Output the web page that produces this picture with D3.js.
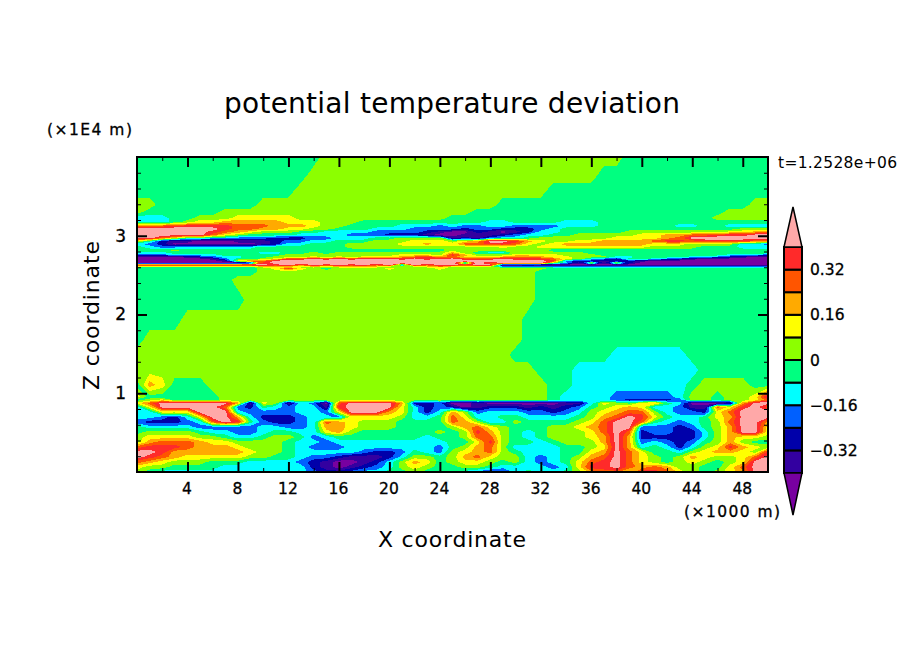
<!DOCTYPE html>
<html>
<head>
<meta charset="utf-8">
<script src="https://cdnjs.cloudflare.com/ajax/libs/d3/7.8.5/d3.min.js"></script>
<style>
html, body { margin: 0; padding: 0; background: #fff; }
svg { display: block; }
text { font-family: "DejaVu Sans", sans-serif; fill: #000; }
</style>
</head>
<body>
<script>
// heights of the grid rows, x1E4 m
var zLevels = [0,.063,.127,.19,.254,.317,.381,.444,.508,.571,.635,.698,.762,.825,.876,.914,.952,1.105,1.295,1.486,1.676,1.93,2.184,2.438,2.54,2.59,2.603,2.629,2.654,2.679,2.705,2.73,2.756,2.781,2.819,2.857,2.895,2.933,2.971,3.01,3.048,3.086,3.124,3.175,3.225,3.302,3.39,3.581,3.771,4];
// x of the grid columns, x1000 m
var xLevels = d3.range(0, 51);
var xTicks = [4,8,12,16,20,24,28,32,36,40,44,48];
var zTicks = [1,2,3];
// contour levels and fills, hundredths of K
var levels = [-40,-32,-24,-16,-8,0,8,16,24,32,40];
var fills = ["#7800a0","#3300a0","#0000aa","#0060ff","#00ffff","#00ff80","#8cff00","#ffff00","#ffaa00","#ff5500","#ff2a2a","#ffa8a8"];
var barLabels = [-32,-16,0,16,32];

// deviation, one list per height, hundredths of K
var r00 = [4,-4,-12,-12,-12,-12,-12,-12,-12,-12,-12,-12,-12,-12,-20,-28,-28,-20,-12,-12,-4,-4,4,-4,-4,
 -4,-12,-20,-28,-28,-12,-4,-12,-12,-4,4,20,28,28,12,36,36,28,12,4,-4,4,12,20,44,44];
var r01 = [12,4,4,-4,-4,-4,-4,-12,-12,-12,-12,-12,-12,-12,-28,-36,-44,-36,-28,-20,-12,4,12,4,-4,
 -4,4,4,-4,-12,-12,-12,-12,-20,-12,12,36,36,44,28,20,28,20,4,4,-4,-4,12,28,44,44];
var r02 = [28,20,12,4,4,4,-4,-4,-4,-12,-12,-12,-12,-20,-28,-36,-44,-44,-36,-28,-12,4,20,12,-4,
 4,12,12,4,-4,4,-12,-20,-12,-4,12,28,36,44,28,12,4,-4,4,12,4,-4,4,12,44,44];
var r03 = [44,36,28,20,12,12,12,12,12,4,4,-4,-4,-12,-20,-20,-28,-36,-36,-36,-28,-12,4,4,-4,
 4,20,28,12,4,4,-12,-20,-12,-4,4,20,28,44,28,12,4,-4,4,20,12,4,4,12,28,44];
var r04 = [44,44,36,20,20,20,20,20,20,12,4,4,-4,-12,-12,-12,-12,-12,-20,-28,-28,-20,-4,-12,-20,
 4,12,20,28,4,-4,-12,-12,-12,-4,-4,12,20,44,28,12,-4,-4,-12,4,12,20,20,12,4,36];
var r05 = [28,36,36,36,28,20,20,20,12,4,4,4,-4,-12,-20,-20,-20,-12,-12,-12,-12,-12,-12,-12,-20,
 -4,4,20,28,4,-12,-12,-12,-12,-4,-4,4,12,44,20,-12,-4,-12,-28,-12,4,12,36,20,12,4];
var r06 = [4,20,28,28,28,20,12,12,4,4,4,4,-4,-12,-12,-20,-12,-12,-12,-12,-12,-12,-12,-12,-12,
 -4,-4,12,36,4,-4,-4,-12,-4,4,4,4,20,44,20,-20,-12,-20,-28,-20,-4,4,20,4,-4,-4];
var r07 = [4,12,12,12,12,4,4,-4,-12,-12,-4,4,4,-4,-20,-12,-4,-4,-4,-4,-4,-4,-4,-12,-4,
 -4,4,28,28,4,-4,-12,-4,4,4,4,12,20,44,20,-28,-28,-28,-28,-28,-12,4,20,12,12,4];
var r08 = [-4,4,4,4,4,-4,-12,-12,-20,-20,-12,-4,-4,-12,-12,12,20,4,-4,-4,-4,-4,-4,-4,4,
 -4,4,36,20,4,-4,-12,-4,4,4,4,12,28,44,28,-28,-20,-20,-28,-28,-12,4,20,44,44,12];
var r09 = [-4,-12,-12,-12,-12,-20,-20,-20,-20,-20,-12,-12,-20,-20,-12,20,20,12,4,4,4,-4,-4,-4,-4,
 4,20,28,12,4,-4,-4,-4,4,4,12,20,28,44,44,-20,-20,-20,-28,-20,-4,4,20,44,44,12];
var r10 = [-20,-28,-28,-28,-20,-12,28,44,36,-4,-20,-28,-28,-20,-12,28,20,12,4,4,4,-4,-4,-4,-4,
 28,20,4,-12,-12,4,-4,-4,-4,-4,4,12,28,44,44,28,-4,-12,-20,-12,-4,4,28,44,44,20];
var r11 = [-12,-12,-20,-28,-12,12,44,44,20,-12,-28,-28,-28,-20,-12,-12,-20,12,12,12,12,4,-12,-12,-4,
 28,12,-12,-12,-4,-4,-12,-12,-12,-12,-4,4,20,28,44,36,12,-4,-12,-12,-4,12,20,44,44,44];
var r12 = [-12,-12,12,12,12,44,44,44,-12,-20,-20,-20,-20,-12,-12,-20,12,44,44,44,20,12,-12,-28,-12,
 20,4,-20,-12,-12,-12,-20,-20,-28,-20,-12,4,12,20,28,28,4,-12,-20,-20,-28,12,28,44,44,44];
var r13 = [-12,12,44,44,44,44,44,28,-20,-28,-4,-12,-20,-12,-12,-36,36,44,44,44,44,12,-12,-28,-20,
 -28,-44,-36,-28,-28,-28,-36,-28,-36,-28,-20,-4,4,12,20,12,-12,-12,-20,-36,-36,28,12,36,44,28];
var r14 = [12,28,44,44,44,44,44,44,20,-36,12,4,-36,-12,-20,-44,28,44,44,44,44,20,-28,-28,-20,
 -44,-44,-36,-44,-44,-44,-44,-44,-44,-36,-36,-12,12,4,-4,12,20,-4,-12,-44,-44,-44,-36,20,44,44];
var r15 = [-4,4,12,-4,-4,-4,-4,4,4,4,4,4,4,4,4,4,4,4,4,4,4,4,4,4,4,
 4,4,4,4,4,4,4,4,-4,-12,-12,-12,-12,-20,-28,-28,-28,-28,-20,4,4,-4,4,4,12,28];
var r16 = [12,-4,-4,-4,-4,-4,-4,4,4,4,4,4,4,4,4,4,4,4,4,4,4,4,4,4,4,
 4,4,4,4,4,4,4,4,-4,-12,-12,-12,-12,-20,-20,-20,-20,-20,-12,4,4,-4,4,4,12,44];
var r17 = [-4,20,12,-4,-4,-4,4,4,4,4,4,4,4,4,4,4,4,4,4,4,4,4,4,4,4,
 4,4,4,4,4,4,4,4,-4,-4,-12,-12,-12,-12,-12,-12,-12,-12,-12,-4,4,4,4,4,-4,-4];
var r18 = [4,4,4,4,4,4,4,4,4,4,4,4,4,4,4,4,4,4,4,4,4,4,4,4,4,
 4,4,4,4,4,4,4,-4,-4,-4,-12,-12,-12,-12,-12,-12,-12,-12,-12,-12,-4,-4,-4,-4,-4,-4];
var r19 = [4,4,4,4,4,4,4,4,4,4,4,4,4,4,4,4,4,4,4,4,4,4,4,4,4,
 4,4,4,4,4,-4,-4,-4,-4,-4,-4,-4,-4,-12,-12,-12,-12,-12,-12,-4,-4,-4,-4,-4,-4,-4];
var r20 = [-4,4,4,4,4,4,4,4,4,4,4,4,4,4,4,4,4,4,4,4,4,4,4,4,4,
 4,4,4,4,4,4,-4,-4,-4,-4,-4,-4,-4,-4,-4,-4,-4,-4,-4,-4,-4,-4,-4,-4,-4,-4];
var r21 = [-4,-4,-4,-4,4,4,4,4,4,4,4,4,4,4,4,4,4,4,4,4,4,4,4,4,4,
 4,4,4,4,4,4,-4,-4,-4,-4,-4,-4,-4,-4,-4,-4,-4,-4,-4,-4,-4,-4,-4,-4,-4,-4];
var r22 = [-4,-4,-4,-4,-4,-4,-4,-4,-4,4,4,4,4,4,4,4,4,4,4,4,4,4,4,4,4,
 4,4,4,4,4,4,4,-4,-4,-4,-4,-4,-4,-4,-4,-4,-4,-4,-4,-4,-4,-4,-4,-4,-4,-4];
var r23 = [-4,-4,-4,-4,-4,-4,-4,-4,4,4,4,4,4,4,4,4,4,4,4,4,4,4,4,4,4,
 4,4,4,4,4,4,4,-4,-4,-4,-4,-4,-4,-4,-4,-4,-4,-4,-4,-4,-4,-4,-4,-4,-4,-4];
var r24 = [-4,-4,-4,-4,-4,-4,-4,-4,-4,-4,4,4,4,4,4,4,4,4,4,4,4,4,4,4,4,
 4,4,4,4,4,4,4,-4,-4,-4,-4,-4,-4,-4,-4,-4,-4,-4,-4,-4,-4,-4,-4,-4,-4,-4];
var r25 = [-4,-4,-4,-4,-4,-4,-4,-4,-4,-4,4,12,36,12,4,-4,4,4,4,4,12,4,4,4,12,
 4,4,4,4,4,4,4,4,-4,-4,-4,-4,-4,-4,-4,-4,-4,-4,-4,-4,-4,-4,-4,-4,-4,-4];
var r26 = [-4,-4,-4,-4,-4,-4,-4,-4,-4,-4,12,20,12,4,12,4,12,20,12,12,4,12,4,12,20,
 4,4,4,4,-12,-12,-12,-12,-12,-12,-12,-12,-12,-12,-12,-12,-12,-12,-12,-12,-12,-12,-12,-12,-12,-12];
var r27 = [44,44,44,44,44,44,44,44,44,44,44,36,44,28,44,36,44,36,44,28,44,-20,44,28,44,
 44,36,44,44,-44,-44,-36,-44,-44,-44,-44,-44,-44,-44,-44,-44,-44,-44,-44,-44,-44,-44,-44,-44,-44,-44];
var r28 = [-44,-44,-44,-44,-44,-44,-44,-44,-44,-36,36,44,44,44,44,44,44,44,44,44,44,44,44,44,44,
 44,-20,44,28,44,44,44,44,4,-12,-36,12,-36,12,-28,-44,-44,-44,-44,-44,-44,-44,-44,-44,-44,-44];
var r29 = [-44,-44,-44,-44,-44,-44,-44,-36,12,28,28,44,44,44,44,44,44,44,44,44,44,44,44,44,44,
 44,44,44,44,44,44,44,44,36,-20,-28,-28,-36,-28,-28,-36,-44,-44,-44,-44,-44,-44,-44,-44,-44,-44];
var r30 = [-44,-44,-44,-44,-44,-44,-36,-20,-4,-4,4,12,36,36,44,36,44,36,44,44,44,36,44,36,44,
 44,36,36,36,44,36,36,36,28,12,4,-12,-20,-28,-4,-4,-12,-20,-28,-36,-44,-44,-44,-44,-44,-44];
var r31 = [-44,-44,-44,-44,-36,-28,-20,-12,-12,-4,-4,4,4,4,12,4,12,4,12,12,12,20,28,36,20,
 28,12,12,12,20,28,28,20,12,12,4,4,4,-12,-12,-4,-4,-4,-4,-12,-12,-20,-28,-36,-44,-44];
var r32 = [-20,-20,-20,-12,-12,-12,-12,-4,-4,-4,-4,-4,4,4,4,4,4,4,4,4,4,12,12,12,4,
 36,20,4,4,4,12,12,12,12,4,4,4,-4,-4,-4,-4,-4,-4,-4,-4,-4,-4,-12,-12,-12,-28];
var r33 = [-12,-12,-12,-4,-4,-4,-4,-4,-4,-4,-12,-12,-4,-4,4,-4,4,4,4,4,4,4,4,4,4,
 20,4,-4,-12,-12,4,4,4,4,4,4,-4,-4,-4,-4,-4,-4,-4,-4,-4,-4,-4,-4,-4,-4,-4];
var r34 = [-4,-4,-4,4,-4,-4,-4,-4,-4,-4,-4,-4,-4,-4,-4,-4,-4,-4,-4,-4,-4,-4,-4,-4,-4,
 4,4,4,4,4,4,4,4,-4,-4,-4,-4,-4,-4,-4,-4,-4,-4,-4,-4,-4,-4,-4,-4,-4,-4];
var r35 = [-4,-12,-20,-20,-12,-12,-12,-12,-12,-12,-4,-4,-4,-4,-4,-4,-4,4,4,4,4,4,4,4,4,
 4,4,4,4,12,4,4,12,12,12,12,12,12,12,12,12,4,4,4,4,-4,-4,-4,-12,-12,-12];
var r36 = [-12,-20,-28,-44,-44,-44,-44,-44,-44,-44,-36,-28,-12,-12,-4,-4,-4,4,4,4,4,12,12,20,12,
 12,28,28,36,36,28,12,4,12,20,20,20,20,20,20,20,12,12,12,4,4,4,4,-12,-12,-20];
var r37 = [12,-4,-28,-36,-36,-44,-44,-44,-36,-36,-36,-28,-20,-20,-12,-12,-4,-4,-4,4,4,4,12,12,12,
 4,12,20,44,44,36,20,12,4,4,12,12,20,20,20,20,28,36,36,28,36,36,36,36,28,28];
var r38 = [44,44,28,12,-4,-4,-12,-12,-20,-20,-20,-28,-28,-28,-20,-20,-12,-12,-12,-4,-4,4,4,4,4,
 -36,-28,-36,-20,-12,-12,-4,4,4,4,4,4,4,12,12,12,12,20,28,44,44,44,44,44,44,44];
var r39 = [44,44,44,44,44,44,28,12,4,-4,-4,-4,-4,-12,-12,-12,-12,-20,-20,-20,-28,-28,-28,-36,-44,
 -44,-36,-36,-36,-28,-20,-12,-12,-4,-4,4,4,4,4,4,12,12,20,20,28,28,36,36,36,44,44];
var r40 = [44,44,44,44,44,44,36,28,20,12,4,4,4,-4,-4,-12,-12,-12,-12,-20,-20,-20,-20,-28,-36,
 -44,-44,-28,-36,-44,-36,-28,-12,-12,-4,-4,-4,-4,-4,4,4,4,4,4,4,4,4,12,12,20,28];
var r41 = [44,44,44,44,44,44,44,36,28,28,20,20,12,12,4,4,-4,-4,-4,-12,-12,-12,-20,-20,-20,
 -20,-28,-20,-20,-28,-28,-28,-20,-12,-4,-4,-4,-4,-4,-4,-4,-4,-4,-4,-4,-4,-4,-4,4,4,4];
var r42 = [20,28,28,36,36,36,36,36,28,28,28,20,20,20,12,4,4,-4,-4,-4,-4,-12,-12,-12,-20,
 -12,-20,-20,-12,-12,-20,-20,-20,-20,-12,-12,-12,-4,-4,-4,-4,-4,-4,-12,-12,-4,-4,-12,-12,-12,-12];
var r43 = [-12,-12,-12,-4,4,12,12,20,20,20,20,20,12,12,12,4,4,4,-4,-4,-4,-4,-4,-4,-4,
 -4,-4,-4,-12,-12,-4,-4,-4,-4,-12,-12,-12,-4,-4,-4,-4,-4,-4,-4,-4,-4,-4,-4,-4,-4,-4];
var r44 = [-12,-12,-12,-4,-4,4,4,4,12,12,12,12,12,4,4,4,4,4,4,4,4,4,4,4,4,
 -4,-4,-4,-4,-4,-4,-4,-4,-4,-4,-4,-4,-4,-4,-4,-4,-4,-4,-4,-4,-4,4,4,4,4,4];
var r45 = [4,-4,-4,-4,-4,-4,-4,4,4,4,4,4,4,4,4,4,4,4,4,4,4,4,4,4,4,
 4,4,-4,-4,-4,-4,-4,-4,-4,-4,-4,-4,-4,-4,-4,-4,-4,-4,-4,-4,-4,-4,4,4,4,4];
var r46 = [4,4,-4,-4,-4,-4,-4,-4,-4,-4,4,4,4,4,4,4,4,4,4,4,4,4,4,4,4,
 4,4,4,4,-4,-4,-4,-4,-4,-4,-4,-4,-4,-4,-4,-4,-4,-4,-4,-4,-4,-4,-4,-4,4,4];
var r47 = [-4,-4,-4,-4,-4,-4,-4,-4,-4,-4,-4,-4,-4,4,4,4,4,4,4,4,4,4,4,4,4,
 4,4,4,4,4,4,4,4,-4,-4,-4,-4,-4,-4,-4,-4,-4,-4,-4,-4,-4,-4,-4,-4,-4,-4];
var r48 = [-4,-4,-4,-4,-4,-4,-4,-4,-4,-4,-4,-4,-4,-4,4,4,4,4,4,4,4,4,4,4,4,
 4,4,4,4,4,4,4,4,4,4,4,4,-4,-4,-4,-4,-4,-4,-4,-4,-4,-4,-4,-4,-4,-4];
var r49 = [-4,-4,-4,-4,-4,-4,-4,-4,-4,-4,-4,-4,-4,-4,-4,4,4,4,4,4,4,4,4,4,4,
 4,4,4,4,4,4,4,4,4,4,4,4,4,4,-4,-4,-4,-4,-4,-4,-4,-4,-4,-4,-4,-4];

var rows = [r00,r01,r02,r03,r04,r05,r06,r07,r08,r09,r10,r11,r12,r13,r14,r15,r16,r17,r18,r19,r20,r21,r22,r23,r24,
 r25,r26,r27,r28,r29,r30,r31,r32,r33,r34,r35,r36,r37,r38,r39,r40,r41,r42,r43,r44,r45,r46,r47,r48,r49];

var width = 904, height = 654;
var plotLeft = 137, plotRight = 768, plotTop = 157, plotBottom = 472;

var svg = d3.select("body")
.append("svg")
.attr("width", width)
.attr("height", height);

var x = d3.scaleLinear().domain([0, 50]).range([plotLeft, plotRight]);
var z = d3.scaleLinear().domain([0, 4]).range([plotBottom, plotTop]);

// grid index -> data coordinate, the rows are not evenly spaced
var colToX = d3.scaleLinear().domain(xLevels.map(function(d, i){ return i; })).range(xLevels).clamp(true);
var rowToZ = d3.scaleLinear().domain(zLevels.map(function(d, i){ return i; })).range(zLevels).clamp(true);

var nx = xLevels.length, nz = zLevels.length;
var values = [];
rows.forEach(function(r){
    for (var i = 0; i < nx; i++) values.push(r[i]);
});

var contours = d3.contours()
.size([nx, nz])
.thresholds(levels)
(values);

var toPixels = d3.geoTransform({
    point: function(px, py){
        this.stream.point(x(colToX(px - 0.5)), z(rowToZ(py - 0.5)));
    }
});
var path = d3.geoPath(toPixels);

svg.append("clipPath").attr("id", "plotClip")
.append("rect")
.attr("x", plotLeft).attr("y", plotTop)
.attr("width", plotRight - plotLeft).attr("height", plotBottom - plotTop);

var field = svg.append("g").attr("clip-path", "url(#plotClip)");

field.append("rect")
.attr("x", plotLeft).attr("y", plotTop)
.attr("width", plotRight - plotLeft).attr("height", plotBottom - plotTop)
.attr("fill", fills[0]);

field.selectAll("path")
.data(contours)
.enter().append("path")
.attr("d", path)
.attr("fill", function(d, i){ return fills[i + 1]; })
.attr("shape-rendering", "crispEdges");

// axes, ticks point inward on all four sides
function drawTicks(axis, tx, ty, size, values, labels){
    var g = svg.append("g")
    .attr("transform", "translate(" + tx + "," + ty + ")")
    .call(axis.tickValues(values).tickSize(size).tickSizeOuter(0)
        .tickFormat(labels ? d3.format("d") : ""));
    g.select(".domain").remove();
    g.selectAll("line").attr("stroke", "#000").attr("stroke-width", size > 5 || size < -5 ? 2 : 1);
    return g;
}
var xMinor = d3.range(2, 50, 4), zMinor = d3.range(1, 20).map(function(d){ return d / 5; }).filter(function(d){ return d % 1 != 0; });

var bottom = drawTicks(d3.axisBottom(x), 0, plotBottom, -10, xTicks, true);
bottom.selectAll("text").attr("x", -1).attr("y", 11).attr("dy", "0.71em").attr("font-size", 15.5).attr("stroke", "#000").attr("stroke-width", 0.3);
drawTicks(d3.axisBottom(x), 0, plotBottom, -4, xMinor, false);
drawTicks(d3.axisTop(x), 0, plotTop, -10, xTicks, false);
drawTicks(d3.axisTop(x), 0, plotTop, -4, xMinor, false);

var left = drawTicks(d3.axisLeft(z), plotLeft, 0, -10, zTicks, true);
left.selectAll("text").attr("x", -11).attr("font-size", 17).attr("stroke", "#000").attr("stroke-width", 0.3);
drawTicks(d3.axisLeft(z), plotLeft, 0, -4, zMinor, false);
drawTicks(d3.axisRight(z), plotRight, 0, -10, zTicks, false);
drawTicks(d3.axisRight(z), plotRight, 0, -4, zMinor, false);

svg.append("rect")
.attr("x", plotLeft).attr("y", plotTop)
.attr("width", plotRight - plotLeft).attr("height", plotBottom - plotTop)
.attr("fill", "none")
.attr("stroke", "#000")
.attr("stroke-width", 2);

// colour bar
var barLeft = 784, barRight = 802, barMid = 793;
var barY = d3.scaleLinear().domain([-40, 40]).range([473, 247]);
var bar = svg.append("g");

bar.selectAll(".barBox")
.data(d3.pairs(levels))
.enter().append("rect")
.attr("class", "barBox")
.attr("x", barLeft)
.attr("y", function(d){ return barY(d[1]); })
.attr("width", barRight - barLeft)
.attr("height", function(d){ return barY(d[0]) - barY(d[1]); })
.attr("fill", function(d, i){ return fills[i + 1]; })
.attr("stroke", "#000")
.attr("stroke-width", 2);

var line = d3.line();
bar.append("path")
.attr("d", line([[barLeft, barY(40)], [barMid, 207], [barRight, barY(40)]]) + "Z")
.attr("fill", fills[fills.length - 1])
.attr("stroke", "#000")
.attr("stroke-width", 1.5);
bar.append("path")
.attr("d", line([[barLeft, barY(-40)], [barMid, 515], [barRight, barY(-40)]]) + "Z")
.attr("fill", fills[0])
.attr("stroke", "#000")
.attr("stroke-width", 1.5);

bar.selectAll(".barLabel")
.data(barLabels)
.enter().append("text")
.attr("class", "barLabel")
.attr("x", 810)
.attr("y", function(d){ return barY(d); })
.attr("dy", "0.36em")
.attr("font-size", 15.5)
.attr("stroke", "#000")
.attr("stroke-width", 0.3)
.text(function(d){ return d == 0 ? "0" : (d < 0 ? "\u2212" : "") + (Math.abs(d) / 100).toFixed(2); });

// titles
function label(str, tx, ty, size, len){
    return svg.append("text")
    .attr("x", tx)
    .attr("y", ty)
    .attr("font-size", size)
    .attr("textLength", len)
    .attr("lengthAdjust", "spacing")
    .text(str);
}
label("potential temperature deviation", 224, 113, 28, 456);
label("(\u00d71E4 m)", 47, 135, 15.5, 85).attr("stroke", "#000").attr("stroke-width", 0.3);
label("(\u00d71000 m)", 684, 517, 15.5, 96).attr("stroke", "#000").attr("stroke-width", 0.3);
label("X coordinate", 378, 547, 22, 148);
label("t=1.2528e+06", 778, 168, 15.5, 119);

svg.append("text")
.attr("transform", "translate(99,390) rotate(-90)")
.attr("font-size", 22)
.attr("textLength", 149)
.attr("lengthAdjust", "spacing")
.text("Z coordinate");
</script>
</body>
</html>
